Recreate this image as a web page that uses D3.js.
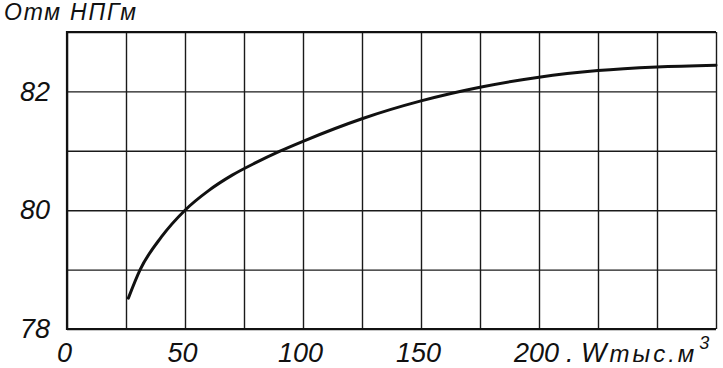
<!DOCTYPE html>
<html>
<head>
<meta charset="utf-8">
<script src="https://cdnjs.cloudflare.com/ajax/libs/d3/7.8.5/d3.min.js"></script>
<style>
body { margin: 0; background: #fff; }
text { font-family: "Liberation Sans", Arial, sans-serif; font-style: italic; fill: #111; }
</style>
</head>
<body>
<div id="chart"></div>
<script>
// объём воды, тыс. м3
var volume = [26, 31, 40, 50, 60, 70, 80, 90, 100, 125, 150, 175, 200, 225, 250, 275];
// отметка НПГ, м
var level = [78.52, 79.0, 79.55, 80.0, 80.33, 80.59, 80.8, 80.99, 81.16, 81.54, 81.84, 82.07, 82.24, 82.35, 82.41, 82.44];

var xLabels = [0, 50, 100, 150, 200];
var yLabels = [78, 80, 82];
var xGrid = d3.range(0, 276, 25);
var yGrid = [78, 79, 80, 81, 82, 83];

var margin = { top: 32, right: 7, bottom: 39, left: 67 },
	width = 723 - margin.left - margin.right,
	height = 368 - margin.top - margin.bottom;

var svg = d3.select("#chart").append("svg")
	.attr("width", 723)
	.attr("height", 368)
	.append("g")
	.attr("transform", "translate(" + margin.left + "," + margin.top + ")");

var x = d3.scaleLinear().domain([0, 275]).range([0, width]);
var y = d3.scaleLinear().domain([78, 83]).range([height, 0]);

// сетка
svg.append("g")
	.attr("class", "grid")
	.attr("transform", "translate(0," + height + ")")
	.call(d3.axisBottom(x).tickValues(xGrid).tickSize(-height).tickFormat(""));
svg.append("g")
	.attr("class", "grid")
	.call(d3.axisLeft(y).tickValues(yGrid).tickSize(-width).tickFormat(""));
svg.selectAll(".grid .domain").remove();
svg.selectAll(".grid line")
	.attr("stroke", "#1a1a1a")
	.attr("stroke-width", 1.4);

// рамка
svg.append("path")
	.attr("d", "M" + x(275) + "," + y(83) + "H" + x(0) + "V" + y(78) + "H" + x(275))
	.attr("fill", "none")
	.attr("stroke", "#111")
	.attr("stroke-width", 2.2);

// подписи осей
var xAxis = svg.append("g")
	.attr("transform", "translate(0," + height + ")")
	.call(d3.axisBottom(x).tickValues(xLabels).tickSize(0).tickPadding(14).tickFormat(d3.format("d")));
var yAxis = svg.append("g")
	.call(d3.axisLeft(y).tickValues(yLabels).tickSize(0).tickPadding(17).tickFormat(d3.format("d")));
xAxis.select(".domain").remove();
yAxis.select(".domain").remove();
svg.selectAll(".tick text")
	.attr("font-family", null)
	.attr("fill", null)
	.style("font-size", "27px");
xAxis.selectAll(".tick text").attr("dx", "-3px");

// кривая
var line = d3.line()
	.x(function(d, i) { return x(volume[i]); })
	.y(function(d) { return y(d); })
	.curve(d3.curveMonotoneX);

svg.append("path")
	.datum(level)
	.attr("d", line)
	.attr("fill", "none")
	.attr("stroke", "#111")
	.attr("stroke-width", 3)
	.attr("stroke-linecap", "round");

// заголовок
svg.append("text")
	.attr("x", 4 - margin.left)
	.attr("y", 20 - margin.top)
	.attr("textLength", 132)
	.attr("lengthAdjust", "spacing")
	.style("font-size", "23px")
	.text("Отм НПГм");

// единицы по оси X
var unit = svg.append("text")
	.attr("x", 566 - margin.left)
	.attr("y", 362 - margin.top)
	.style("font-size", "27px");
unit.append("tspan").text(". W");
unit.append("tspan").style("font-size", "24px").style("letter-spacing", "3px").attr("dx", 3).text("тыс.м");
unit.append("tspan").style("font-size", "18px").attr("dx", 2).attr("dy", -13).text("3");
</script>
</body>
</html>
